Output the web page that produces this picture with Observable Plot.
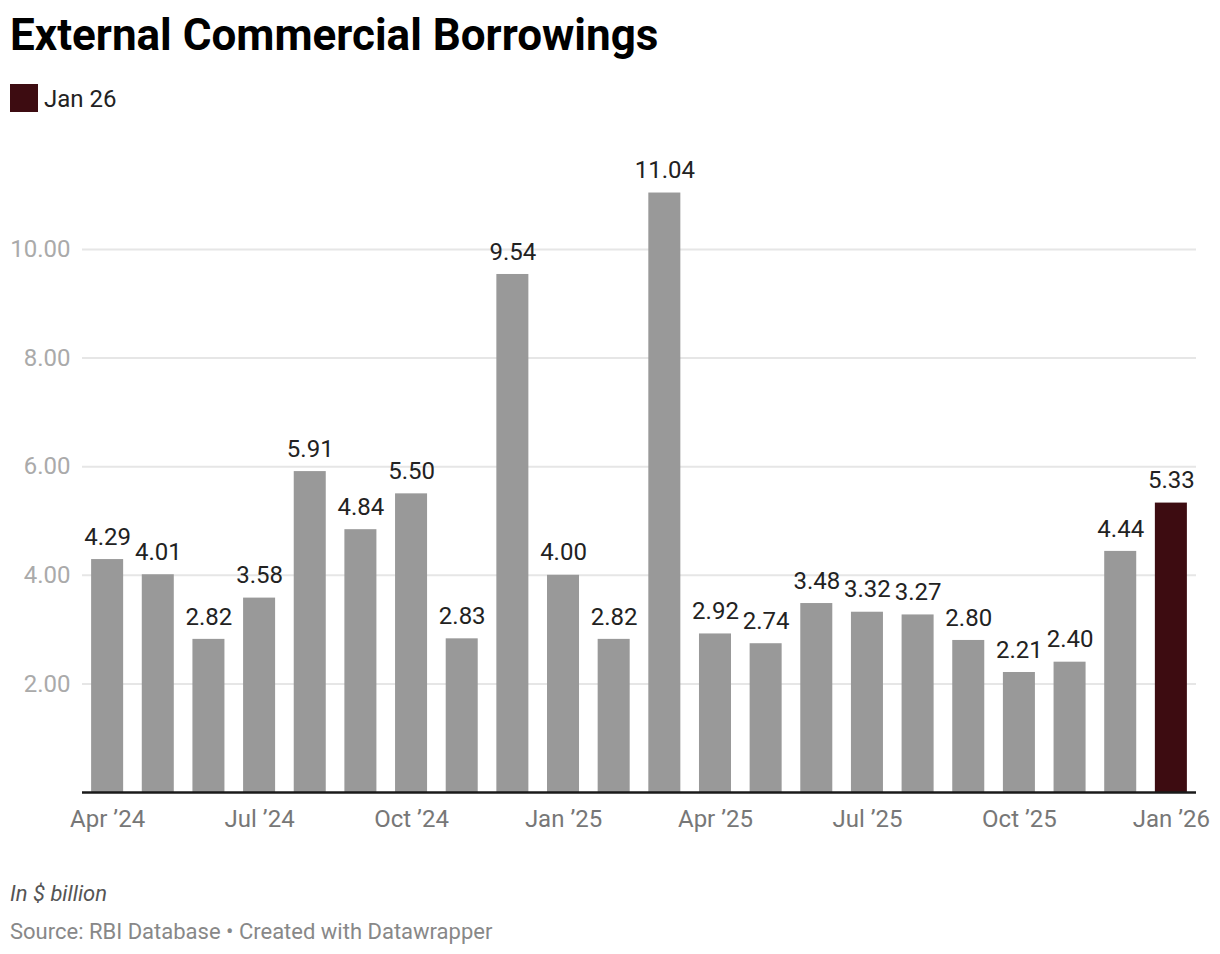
<!DOCTYPE html>
<html>
<head>
<meta charset="utf-8">
<script src="https://cdn.jsdelivr.net/npm/d3@7"></script>
<script src="https://cdn.jsdelivr.net/npm/@observablehq/plot@0.6"></script>
<style>
  html, body { margin: 0; padding: 0; background: #fff; }
  body { width: 1220px; height: 954px; position: relative; font-family: Roboto, sans-serif; overflow: hidden; }
  .abs { position: absolute; left: 10px; line-height: 1; white-space: nowrap; }
  #title { top: 13px; font-size: 44px; font-weight: 700; color: #000; }
  #legend { top: 84px; height: 28px; display: flex; align-items: center; }
  #legend .sw { width: 28px; height: 28px; background: #3d0c11; margin-right: 6px; }
  #legend span { font-size: 24px; color: #222; line-height: 1; position: relative; top: 1px; }
  #note { top: 883px; font-size: 22px; font-style: italic; color: #555; }
  #source { top: 921px; font-size: 22px; color: #888; }
  #chart { position: absolute; left: 0; top: 130px; }
</style>
</head>
<body>
<div id="title" class="abs">External Commercial Borrowings</div>
<div id="legend" class="abs"><div class="sw"></div><span>Jan 26</span></div>
<div id="chart"></div>
<div id="note" class="abs">In $ billion</div>
<div id="source" class="abs">Source: RBI Database • Created with Datawrapper</div>
<script>
const months = ["Apr ’24","May ’24","Jun ’24","Jul ’24","Aug ’24","Sep ’24","Oct ’24","Nov ’24","Dec ’24",
  "Jan ’25","Feb ’25","Mar ’25","Apr ’25","May ’25","Jun ’25","Jul ’25","Aug ’25","Sep ’25","Oct ’25","Nov ’25","Dec ’25","Jan ’26"];
const values = [4.29,4.01,2.82,3.58,5.91,4.84,5.50,2.83,9.54,4.00,2.82,11.04,2.92,2.74,3.48,3.32,3.27,2.80,2.21,2.40,4.44,5.33];
const xTickLabels = ["Apr ’24","Jul ’24","Oct ’24","Jan ’25","Apr ’25","Jul ’25","Oct ’25","Jan ’26"];
const yTicks = [2,4,6,8,10];
const highlightMonth = "Jan ’26";

const data = months.map((m, i) => ({month: m, value: values[i]}));

const chart = Plot.plot({
  width: 1220,
  height: 720,
  marginLeft: 82,
  marginRight: 24,
  marginTop: 20,
  marginBottom: 58,
  style: {fontFamily: "Roboto, sans-serif", background: "#fff", overflow: "visible"},
  x: {type: "band", domain: months, paddingInner: 0.368, paddingOuter: 0.18, round: false, label: null},
  y: {domain: [0, 10], range: [662, 119], label: null},
  color: {type: "identity"},
  marks: [
    Plot.ruleY(yTicks, {stroke: "#e6e6e6", strokeWidth: 2}),
    Plot.barY(data, {x: "month", y: "value", fill: d => d.month === highlightMonth ? "#3d0c11" : "#999999"}),
    Plot.ruleY([0], {stroke: "#1a1a1a", strokeWidth: 2.5}),
    Plot.text(data, {x: "month", y: "value", text: d => d.value.toFixed(2), dy: -22.5, fontSize: 24, fill: "#222"}),
    Plot.axisX({ticks: xTickLabels, tickSize: 0, tickPadding: 17, fontSize: 24, color: "#777", label: null}),
    Plot.axisY({ticks: yTicks, tickFormat: d => d.toFixed(2), tickSize: 0, tickPadding: 12, fontSize: 24, color: "#aaaaaa", label: null})
  ]
});
document.getElementById("chart").appendChild(chart);
</script>
</body>
</html>
